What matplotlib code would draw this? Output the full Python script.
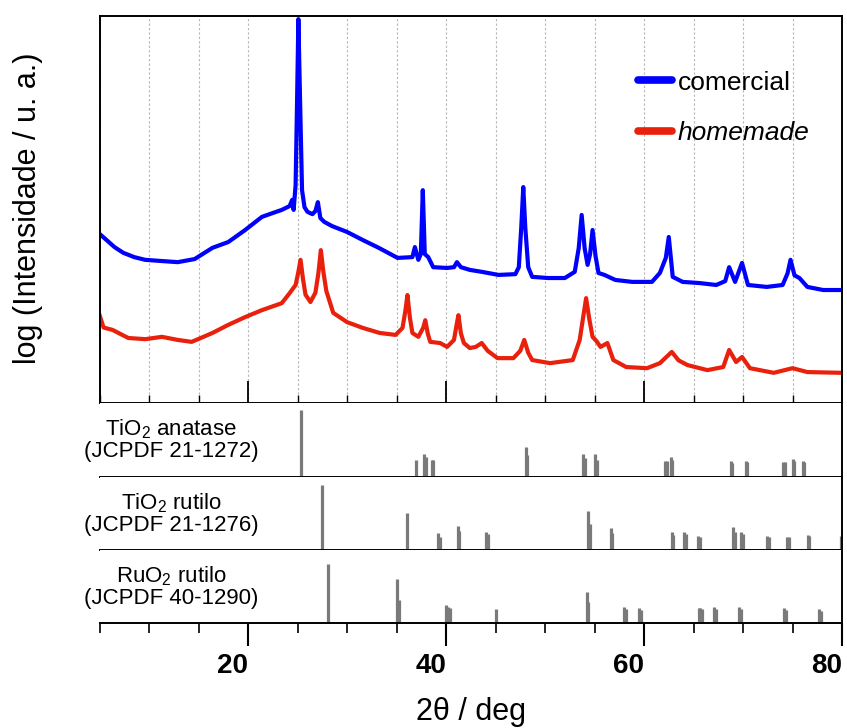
import matplotlib
matplotlib.use("Agg")
import matplotlib.pyplot as plt
from matplotlib.lines import Line2D
from matplotlib.ticker import MultipleLocator

plt.rcParams['font.family'] = ['Liberation Sans', 'DejaVu Sans']
plt.rcParams['mathtext.fontset'] = 'custom'
plt.rcParams['mathtext.rm'] = 'Liberation Sans'
plt.rcParams['mathtext.default'] = 'regular'

# XRD patterns (2theta in deg, log intensity in a.u.)
comercial_x = [5.0, 6.5, 7.4, 8.5, 9.6, 11.2, 12.9, 14.6, 16.4, 18.0, 19.7, 21.4, 22.5, 23.4,
               24.2, 24.45, 24.6, 24.8, 24.95, 25.08, 25.25, 25.45, 25.7, 26.0, 26.5, 26.8,
               27.05, 27.3, 27.7, 28.5, 30.0, 31.6, 33.2, 35.1, 36.6, 36.85, 37.2, 37.45,
               37.65, 37.85, 38.2, 38.7, 40.1, 40.8, 41.1, 41.5, 42.4, 43.6, 45.3, 47.0,
               47.35, 47.6, 47.8, 48.0, 48.3, 48.7, 50.3, 52.0, 53.0, 53.4, 53.7, 54.0,
               54.3, 54.55, 54.8, 55.1, 55.4, 56.0, 57.1, 58.8, 60.8, 61.6, 62.2, 62.5,
               62.75, 62.9, 63.9, 65.6, 67.3, 68.2, 68.6, 69.2, 69.9, 70.5, 72.4, 74.0,
               74.5, 74.8, 75.2, 75.7, 76.5, 78.1, 80.0]
comercial_y = [43.7, 40.3, 38.8, 37.7, 37.0, 36.7, 36.4, 37.2, 40.1, 41.6, 44.7, 48.1, 49.1, 49.9,
               50.9, 52.5, 49.9, 56.3, 78.3, 99.2, 78.3, 55.0, 50.6, 49.4, 48.8, 49.6,
               51.9, 47.8, 46.8, 45.7, 44.2, 42.1, 40.1, 37.5, 37.7, 40.3, 37.0, 38.5,
               55.0, 38.5, 37.7, 35.1, 34.9, 35.1, 36.4, 35.1, 34.4, 33.9, 33.1, 33.3,
               35.1, 45.5, 55.8, 45.5, 35.1, 32.6, 32.3, 32.3, 33.9, 40.0, 48.6, 40.0,
               35.7, 38.5, 44.7, 38.0, 33.6, 33.1, 31.8, 31.3, 31.3, 33.6, 37.5, 42.9,
               36.5, 32.6, 31.3, 31.0, 30.5, 31.5, 35.1, 31.3, 36.2, 30.5, 30.0, 30.5,
               33.5, 37.0, 33.0, 32.3, 30.0, 29.2, 29.2]

homemade_x = [5.0, 5.4, 6.3, 7.9, 9.6, 11.3, 12.9, 14.3, 16.4, 18.0, 19.7, 21.4, 23.4, 24.2,
              24.8, 25.05, 25.3, 25.55, 25.8, 26.3, 26.8, 27.1, 27.35, 27.6, 27.9, 28.6,
              30.0, 31.6, 33.3, 34.9, 35.6, 35.9, 36.1, 36.35, 36.6, 37.2, 37.7, 37.9,
              38.15, 38.4, 39.4, 40.1, 40.8, 41.05, 41.25, 41.5, 41.8, 42.4, 43.0, 43.6,
              44.2, 45.2, 46.8, 47.5, 47.9, 48.3, 48.7, 50.5, 52.8, 53.5, 53.9, 54.15,
              54.45, 54.8, 55.2, 55.6, 56.3, 56.9, 58.2, 60.3, 61.6, 62.8, 63.5, 64.4,
              66.4, 68.0, 68.6, 69.3, 69.9, 70.7, 73.1, 75.0, 76.5, 80.0]
homemade_y = [22.7, 19.5, 18.9, 16.8, 16.5, 17.1, 16.3, 15.8, 18.1, 20.2, 22.2, 24.0, 25.8, 28.4,
              30.5, 33.5, 37.0, 32.0, 28.0, 26.1, 28.5, 33.5, 39.5, 34.0, 29.0, 23.3,
              20.9, 19.4, 18.1, 17.6, 19.4, 24.0, 27.9, 22.0, 18.1, 17.1, 19.5, 21.4,
              18.0, 15.8, 15.5, 14.5, 16.3, 20.0, 22.7, 18.0, 15.5, 14.2, 14.5, 15.5,
              13.5, 11.6, 11.6, 13.5, 16.3, 13.0, 11.1, 10.3, 11.1, 16.3, 23.0, 27.1,
              22.0, 17.1, 16.0, 14.5, 15.5, 11.1, 9.3, 9.0, 10.3, 13.2, 11.0, 9.8,
              8.5, 9.3, 13.7, 10.6, 11.9, 9.0, 7.8, 9.0, 8.0, 7.8]

# reference patterns (position in deg, relative intensity)
anatase_pos = [25.3, 37.0, 37.8, 37.95, 38.55, 38.7, 48.05, 48.2, 53.85, 54.0, 55.05, 55.2,
               62.1, 62.35, 62.7, 62.85, 68.75, 68.9, 70.3, 70.45, 74.05, 74.2, 75.05, 75.2,
               76.05, 76.2]
anatase_int = [90, 23, 31, 27, 23, 23, 40, 30, 31, 26, 31, 23,
               21, 21, 27, 23, 22, 19, 22, 20, 20, 20, 24, 22,
               21, 20]
rutile_pos = [27.45, 36.1, 39.2, 39.35, 41.2, 41.35, 44.05, 44.2, 54.35, 54.5, 56.65, 56.8,
              62.8, 62.95, 64.05, 64.2, 65.5, 65.65, 69.0, 69.15, 69.8, 69.95, 72.45, 72.6,
              74.45, 74.6, 76.55, 76.7, 79.85]
rutile_int = [89, 50, 23, 18, 33, 26, 24, 22, 54, 36, 30, 23,
              24, 21, 24, 22, 19, 18, 31, 25, 25, 22, 19, 18,
              18, 18, 21, 19, 19]
ruo2_pos = [28.05, 35.05, 35.2, 40.0, 40.15, 40.35, 45.05, 54.2, 54.35, 58.0, 58.15, 59.5,
            59.65, 65.55, 65.7, 65.9, 67.1, 67.25, 69.6, 69.75, 74.15, 74.3, 77.7, 77.85]
ruo2_int = [81, 60, 32, 25, 22, 20, 19, 43, 29, 22, 19, 21,
            18, 21, 20, 19, 22, 19, 22, 19, 20, 18, 19, 17]

ref_labels = ['TiO$_2$ anatase\n(JCPDF 21-1272)',
              'TiO$_2$ rutilo\n(JCPDF 21-1276)',
              'RuO$_2$ rutilo\n(JCPDF 40-1290)']

blue = '#0000ff'
red = '#e8200c'
stick_color = '#7a7a7a'

fig = plt.figure(figsize=(8.47, 7.28), dpi=100)
left, width = 0.1176, 0.8765
ax0 = fig.add_axes([left, 0.4464, width, 0.5316])
ax1 = fig.add_axes([left, 0.3448, width, 0.1016])
ax2 = fig.add_axes([left, 0.2445, width, 0.1003])
ax3 = fig.add_axes([left, 0.1442, width, 0.1003])

# top panel: measured patterns
ax0.plot(comercial_x, comercial_y, color=blue, lw=3.0, solid_joinstyle='round')
ax0.plot(homemade_x, homemade_y, color=red, lw=3.0, solid_joinstyle='round')
ax0.set_xlim(5, 80)
ax0.set_ylim(0, 100)
ax0.set_yticks([])
ax0.xaxis.set_major_locator(MultipleLocator(20))
ax0.xaxis.set_minor_locator(MultipleLocator(5))
ax0.tick_params(axis='x', which='major', direction='in', length=16, width=1.3, labelbottom=False)
ax0.tick_params(axis='x', which='minor', direction='in', length=5.5, width=1.0)
ax0.grid(True, which='both', axis='x', color='#b5b5b5', lw=0.8, linestyle=(0, (2, 2)))
for s in ax0.spines.values():
    s.set_linewidth(1.4)

handles = [Line2D([], [], color=blue, lw=5.5, solid_capstyle='round'),
           Line2D([], [], color=red, lw=5.5, solid_capstyle='round')]
leg = ax0.legend(handles, ['comercial', 'homemade'], loc='upper left',
                 bbox_to_anchor=(0.725, 0.859), frameon=False, fontsize=19,
                 handlelength=1.3, handletextpad=0.2, labelspacing=1.0,
                 borderpad=0, borderaxespad=0)
leg.get_texts()[1].set_style('italic')

# reference stick patterns
refs = [(ax1, anatase_pos, anatase_int), (ax2, rutile_pos, rutile_int), (ax3, ruo2_pos, ruo2_int)]
for (ax, pos, inten), lbl in zip(refs, ref_labels):
    ax.vlines(pos, 0, inten, color=stick_color, lw=2.3)
    ax.set_xlim(5, 80)
    ax.set_ylim(0, 100)
    ax.set_yticks([])
    ax.spines['left'].set_visible(False)
    ax.spines['top'].set_visible(False)
    ax.spines['right'].set_linewidth(1.4)
    ax.spines['bottom'].set_linewidth(1.4)
    ax.text(0.096, 0.5, lbl, transform=ax.transAxes, ha='center', va='center',
            fontsize=16, linespacing=1.0)
    if ax is not ax3:
        ax.set_xticks([])

ax3.xaxis.set_major_locator(MultipleLocator(20))
ax3.xaxis.set_minor_locator(MultipleLocator(5))
ax3.tick_params(axis='x', which='major', direction='out', length=16.5, width=1.5, pad=5,
                labelsize=20)
ax3.tick_params(axis='x', which='minor', direction='out', length=7, width=1.2)
ax3.set_xticks([20, 40, 60, 80])
ax3.set_xticklabels(['20', '40', '60', '80'], fontweight='bold', ha='right')

fig.text(471 / 847, 8 / 728, '2θ / deg', ha='center', va='baseline', fontsize=22)
fig.text(28 / 847, 1 - 208 / 728, 'log (Intensidade / u. a.)', rotation=90,
         ha='center', va='center', fontsize=22)

fig.savefig('out.png', dpi=100)
